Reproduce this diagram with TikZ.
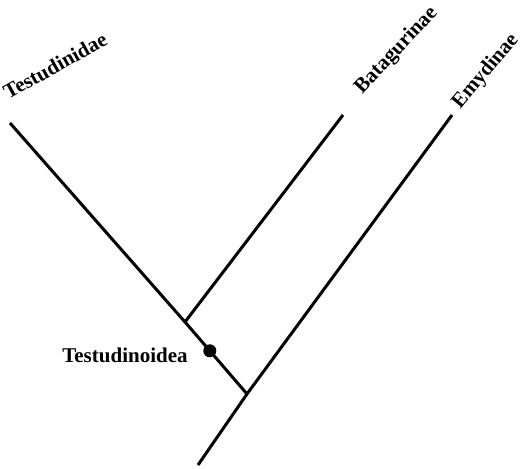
\documentclass[tikz,border=0pt]{standalone}
\usepackage{fontspec}
\setmainfont{Liberation Serif}
\begin{document}
\begin{tikzpicture}[x=0.5pt,y=-0.5pt,
        branch/.style={line width=1.5pt},
        taxon/.style={font=\fontsize{10.5}{12}\selectfont\bfseries, inner sep=0pt}]
        \useasboundingbox (0,0) rectangle (526,469);

        % branch points
        \coordinate (root) at (198,465);
        \coordinate (emydnode) at (247,394);
        \coordinate (testnode) at (185,322);
        % tips
        \coordinate (testudinidae) at (10,123);
        \coordinate (batagurinae) at (343,115);
        \coordinate (emydinae) at (452,115);

        \draw[branch] (root) -- (emydnode) -- (emydinae);
        \draw[branch] (emydnode) -- (testnode) -- (testudinidae);
        \draw[branch] (testnode) -- (batagurinae);

        \path (testnode) -- (emydnode) node[pos=0.4, circle, fill, inner sep=0pt, minimum size=6.5pt] (dot) {};
        \node[taxon, anchor=east] (testudinoidea) at (188,355) {Testudinoidea};

        \node[taxon, anchor=base west, rotate=29] (lbltestudinidae) at (8,100) {Testudinidae};
        \node[taxon, anchor=base west, rotate=47] (lblbatagurinae) at (362,95) {Batagurinae};
        \node[taxon, anchor=base west, rotate=50] (lblemydinae) at (460,110) {Emydinae};
    \end{tikzpicture}
\end{document}
